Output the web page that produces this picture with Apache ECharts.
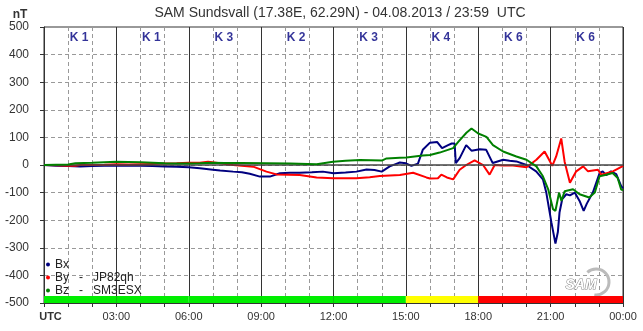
<!DOCTYPE html>
<html>
<head>
<meta charset="utf-8">
<style>
  html, body { margin: 0; padding: 0; background: #fff; }
  #chart { width: 643px; height: 331px; }
</style>
<script src="https://cdn.jsdelivr.net/npm/echarts@6/dist/echarts.min.js"></script>
</head>
<body>
<div id="chart"></div>
<script>
// Magnetometer components, nT, as [hour UTC, value]
const bx = [
  [0,0],[0.5,-3],[1,-4],[1.5,-5],[2,-4],[2.5,-3],[3,-2],[3.5,-3],[4,-3],[4.5,-4],[5,-5],[5.5,-6],[6,-8],
  [6.46,-12],[7,-17],[7.3,-20],[7.84,-24],[8.2,-26],[8.53,-32],[8.95,-42],[9.36,-42],[9.78,-30],[10.2,-28],
  [10.6,-28],[11.1,-26],[11.56,-24],[12,-30],[12.5,-27],[12.95,-24],[13.37,-16],[13.7,-18],[14,-24],
  [14.33,-5],[14.6,4],[14.75,9],[15,6],[15.23,-3],[15.5,5],[15.7,55],[16,81],[16.3,83],[16.5,61],
  [16.75,72],[16.9,78],[17.02,78],[17.07,7],[17.23,25],[17.5,72],[17.72,52],[18.06,57],[18.33,55],
  [18.6,7],[19.03,19],[19.3,15],[19.58,13],[20,0],[20.4,-23],[20.68,-52],[20.82,-100],[21.03,-207],
  [21.2,-285],[21.3,-243],[21.37,-171],[21.48,-124],[21.65,-106],[21.8,-110],[22,-100],[22.2,-130],
  [22.37,-166],[22.5,-140],[22.75,-100],[23.03,-29],[23.16,-23],[23.3,-37],[23.5,-23],[23.72,-33],
  [23.92,-76],[24,-85]
];
const by = [
  [0,0],[0.5,-1],[1,-3],[1.3,-3],[1.5,0],[2,0],[2.5,1],[3,3],[3.5,2],[4,3],[4.5,4],[5,5],[5.5,6],[6,8],
  [6.46,8],[6.8,12],[7.3,6],[7.84,0],[8.67,-6],[9.22,-24],[9.64,-34],[10.6,-36],[11.3,-45],[11.98,-48],
  [12.95,-48],[13.5,-44],[13.92,-40],[14.75,-36],[15.3,-28],[15.85,-45],[16,-49],[16.33,-48],[16.47,-35],
  [16.7,-45],[16.96,-52],[17.23,-17],[17.5,0],[17.85,17],[18.2,0],[18.47,-35],[18.68,0],[19,-2],
  [19.44,-2],[20,-8],[20.41,19],[20.75,49],[21.07,-3],[21.23,31],[21.44,96],[21.58,12],[21.8,-64],
  [22.06,-23],[22.35,-5],[22.55,-23],[22.96,-17],[23.1,-35],[23.58,-23],[23.97,-5],[24,-3]
];
const bz = [
  [0,0],[0.5,1],[1,2],[1.3,6],[2,8],[2.5,10],[3,12],[3.5,11],[4,10],[4.5,8],[5,6],[5.5,5],[6,5],
  [6.46,6],[6.9,8],[7.5,7],[8.2,7],[9.22,6],[10.2,5],[11.3,3],[11.98,12],[12.5,15],[13.1,18],[14,16],
  [14.2,24],[14.75,26],[15.02,27],[15.7,34],[16,36],[16.4,45],[16.96,61],[17.17,84],[17.51,117],
  [17.72,132],[18,114],[18.34,102],[18.61,72],[19.03,49],[19.58,31],[20,19],[20.41,-5],[20.68,-41],
  [20.9,-88],[21.1,-160],[21.2,-166],[21.35,-100],[21.45,-130],[21.58,-95],[21.93,-88],[22.2,-106],
  [22.6,-118],[22.83,-100],[23.03,-41],[23.3,-35],[23.57,-29],[23.78,-47],[23.92,-88],[24,-92]
];
// Planetary K index for each 3-hour block of the day
const kIndex = [1, 1, 3, 2, 3, 4, 6, 6];
const seriesNames = ['Bx', 'By   -   JP82qh', 'Bz   -   SM3ESX'];
const titleText = 'SAM Sundsvall (17.38E, 62.29N) - 04.08.2013 / 23:59  UTC';

const FONT = '"Liberation Sans", Arial, sans-serif';
const kColor = k => (k >= 5 ? '#ff0000' : k === 4 ? '#ffff00' : '#00ee00');

const bandAreas = kIndex.map((k, i) => [
  { xAxis: i * 3, yAxis: -500, itemStyle: { color: kColor(k), opacity: 1 } },
  { xAxis: (i + 1) * 3, yAxis: -475 }
]);
const kLabels = kIndex.map((k, i) => ({ value: [i * 3 + 1.45, 463], k }));

const pad = n => (n < 10 ? '0' + n : '' + n);

const chart = echarts.init(document.getElementById('chart'), null, { renderer: 'canvas' });
chart.setOption({
  animation: false,
  backgroundColor: '#ffffff',
  textStyle: { fontFamily: FONT },
  grid: { left: 44, right: 20, top: 27, bottom: 28, show: true, borderColor: '#333', borderWidth: 1, backgroundColor: 'transparent' },
  graphic: [
    { type: 'text', position: [340, 13], style: { text: titleText, textAlign: 'center', textVerticalAlign: 'middle', font: '14px ' + FONT, fill: '#333' } },
    { type: 'text', position: [20, 15], style: { text: 'nT', textAlign: 'center', textVerticalAlign: 'middle', font: 'bold 12px ' + FONT, fill: '#333' } },
    { type: 'arc', position: [596, 282], shape: { cx: 0, cy: 0, r: 13, startAngle: -2.3, endAngle: 1.7 }, style: { stroke: '#bbb', lineWidth: 3, fill: null }, z: 1 },
    { type: 'text', position: [581, 285], style: { text: 'SAM', textAlign: 'center', textVerticalAlign: 'middle', font: 'italic bold 14px ' + FONT, fill: '#fff', stroke: '#888', lineWidth: 1 }, z: 2 }
  ],
  legend: {
    data: seriesNames,
    orient: 'vertical',
    left: 46,
    top: 258,
    icon: 'circle',
    itemWidth: 4,
    itemHeight: 4,
    itemGap: 0,
    padding: 0,
    textStyle: { fontSize: 12, color: '#222', lineHeight: 13, fontFamily: FONT }
  },
  xAxis: [
    {
      type: 'value', min: 0, max: 24, interval: 1,
      axisLine: { onZero: false, lineStyle: { color: '#333' } },
      axisTick: { show: true, length: 4, lineStyle: { color: '#333' } },
      splitLine: { show: true, lineStyle: { color: '#999', type: [4, 3], width: 1 } },
      axisLabel: {
        margin: 8, fontSize: 11, color: '#333', fontFamily: FONT,
        formatter: v => (v === 0 ? '{u|UTC}' : v % 3 === 0 ? pad(v % 24) + ':00' : ''),
        rich: { u: { fontWeight: 'bold', fontSize: 11, color: '#333', padding: [0, 0, 0, 13], fontFamily: FONT } }
      }
    },
    {
      type: 'value', min: 0, max: 24, interval: 3, position: 'bottom',
      axisLine: { show: false }, axisTick: { show: false }, axisLabel: { show: false },
      splitLine: { show: true, lineStyle: { color: '#333', width: 1 } }
    }
  ],
  yAxis: {
    type: 'value', min: -500, max: 500, interval: 100,
    axisLine: { show: true, lineStyle: { color: '#333' } },
    axisTick: { show: true, length: 4, lineStyle: { color: '#333' } },
    axisLabel: { margin: 15, fontSize: 12, color: '#333', fontFamily: FONT },
    splitLine: { show: true, lineStyle: { color: '#999', type: [4, 3], width: 1 } }
  },
  series: [
    {
      name: seriesNames[0], type: 'line', data: bx, showSymbol: false, symbol: 'circle',
      color: '#00007f', lineStyle: { width: 2, color: '#00007f' },
      markLine: {
        silent: true, symbol: 'none', label: { show: false },
        lineStyle: { color: '#444', type: 'solid', width: 1.5 },
        data: [{ yAxis: 0 }]
      },
      markArea: { silent: true, data: bandAreas },
      z: 3
    },
    {
      name: seriesNames[1], type: 'line', data: by, showSymbol: false, symbol: 'circle',
      color: '#ff0000', lineStyle: { width: 2, color: '#ff0000' }, z: 4
    },
    {
      name: seriesNames[2], type: 'line', data: bz, showSymbol: false, symbol: 'circle',
      color: '#008000', lineStyle: { width: 2, color: '#008000' }, z: 5
    },
    {
      name: 'K', type: 'scatter', data: kLabels, symbolSize: 0, silent: true,
      label: {
        show: true, position: 'inside', formatter: p => 'K ' + p.data.k,
        color: '#00007f', fontWeight: 'bold', fontSize: 12, fontFamily: FONT
      }
    }
  ]
});
</script>
</body>
</html>
